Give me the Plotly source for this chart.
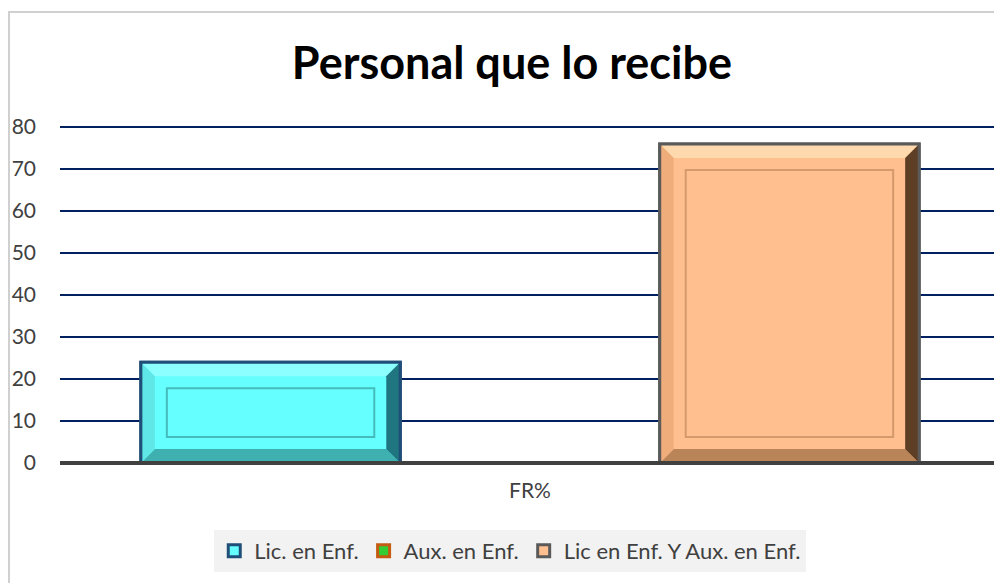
import plotly.graph_objects as go

categories = ["FR%"]
series_names = ["Lic. en Enf.", "Aux. en Enf.", "Lic en Enf. Y Aux. en Enf."]
lic_values = [24]
aux_values = [0]
ambos_values = [76]
y_ticks = [0, 10, 20, 30, 40, 50, 60, 70, 80]

fill_colors = ["#66ffff", "#33cc33", "#ffbf8f"]
line_colors = ["#1f4e79", "#c55a11", "#5a5a5a"]
# bevel face colours: top, left, right, bottom, inner outline
bevels = [
    ("#8cffff", "#5fe6e6", "#1f7580", "#3fb0b0", "#45bcbc"),
    ("#66e066", "#2aa82a", "#186018", "#1f801f", "#228822"),
    ("#ffd9ae", "#f0ad7c", "#5e3e24", "#b98458", "#d49a6c"),
]

# geometry (figure offset by the page's 8px body margin)
W, H = 994, 575
ML, MR, MT, MB = 52, 2, 117, 120
Y_MAX = 80.5
BARGAP = 0.172
plot_w = W - ML - MR
plot_h = H - MT - MB
dx = 1.0 / plot_w
dy = Y_MAX / plot_h

fig = go.Figure()
all_vals = [lic_values, aux_values, ambos_values]
for name, vals, fc, lc in zip(series_names, all_vals, fill_colors, line_colors):
    fig.add_trace(go.Bar(
        x=[0] * len(vals), y=vals, name=name,
        marker=dict(color=fc, line=dict(color=lc, width=3)),
    ))

shapes = []
bw = (1 - BARGAP) / len(series_names)
for i, vals in enumerate(all_vals):
    for j, v in enumerate(vals):
        if v <= 0:
            continue
        c = j + (i - (len(series_names) - 1) / 2) * bw
        x0, x1, y0, y1 = c - bw / 2, c + bw / 2, 0, v
        b = 14
        bx, by = b * dx, b * dy
        top, left, right, bottom, inner = bevels[i]

        def poly(pts, col):
            p = "M " + " L ".join(f"{px},{py}" for px, py in pts) + " Z"
            return dict(type="path", xref="x", yref="y", path=p, fillcolor=col,
                        line=dict(width=0), layer="above")

        shapes.append(poly([(x0, y1), (x1, y1), (x1 - bx, y1 - by), (x0 + bx, y1 - by)], top))
        shapes.append(poly([(x0, y0), (x1, y0), (x1 - bx, y0 + by), (x0 + bx, y0 + by)], bottom))
        shapes.append(poly([(x0, y0), (x0, y1), (x0 + bx, y1 - by), (x0 + bx, y0 + by)], left))
        shapes.append(poly([(x1, y0), (x1, y1), (x1 - bx, y1 - by), (x1 - bx, y0 + by)], right))
        ins = 26
        shapes.append(dict(type="rect", xref="x", yref="y",
                           x0=x0 + ins * dx, x1=x1 - ins * dx, y0=y0 + ins * dy, y1=y1 - ins * dy,
                           line=dict(color=inner, width=2), layer="above"))
        shapes.append(dict(type="rect", xref="x", yref="y", x0=x0, x1=x1, y0=y0, y1=y1,
                           line=dict(color=line_colors[i], width=3), layer="above"))

# zero axis line on top (paper ref so it is not clipped)
shapes.append(dict(type="line", xref="paper", yref="paper", x0=0, x1=1, y0=0, y1=0,
                   line=dict(color="#404040", width=4), layer="above"))
# outer chart border
shapes.append(dict(type="rect", xref="paper", yref="paper",
                   x0=(1 - ML) / plot_w, x1=1.1, y0=-0.6, y1=(plot_h + MT - 4) / plot_h,
                   line=dict(color="#d0d0d0", width=2), layer="below"))

fig.update_layout(
    width=W, height=H,
    margin=dict(l=ML, r=MR, t=MT, b=MB),
    paper_bgcolor="white", plot_bgcolor="white",
    barmode="group", bargap=BARGAP, bargroupgap=0,
    title=dict(text="<b>Personal que lo recibe</b>", x=0.507, xanchor="center",
               y=1 - 55 / H, yanchor="middle",
               font=dict(family="Lato", size=45, color="black")),
    font=dict(family="Lato", color="#404040"),
    showlegend=True,
    legend=dict(orientation="h", x=0.479, xanchor="center", y=-0.26, yanchor="middle",
                bgcolor="#f2f2f2", font=dict(size=22, color="#404040"),
                itemwidth=30),
    xaxis=dict(range=[-0.5, 0.5], tickvals=[0], ticktext=categories, showgrid=False,
               zeroline=False, showline=False,
               tickfont=dict(size=21, color="#404040"), ticks="", ticklabelstandoff=13),
    yaxis=dict(range=[0, Y_MAX], tickvals=y_ticks, showgrid=True, gridcolor="#002060", gridwidth=2,
               zeroline=False, showline=False, tickfont=dict(size=21, color="#404040"), ticks="",
               ticklabelstandoff=23),
    shapes=shapes,
)

fig.write_html("out.html")
